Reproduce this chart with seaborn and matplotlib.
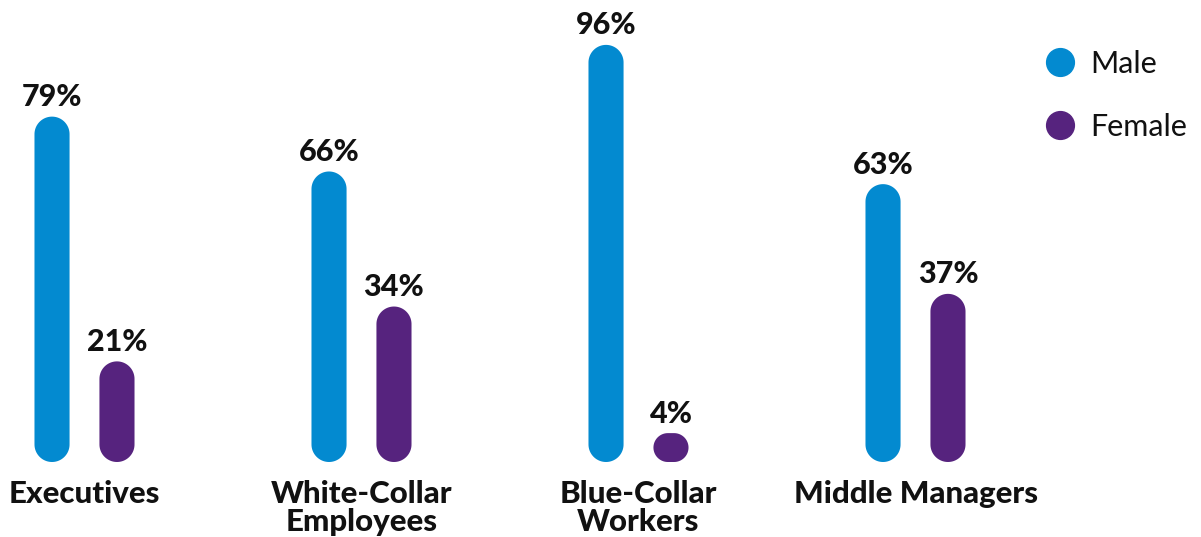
import matplotlib
matplotlib.use("Agg")
import matplotlib.pyplot as plt
from matplotlib.patches import Polygon
from matplotlib.lines import Line2D
from matplotlib.transforms import IdentityTransform
import seaborn as sns
import pandas as pd
import numpy as np

categories = ["Executives", "White-Collar\nEmployees", "Blue-Collar\nWorkers", "Middle Managers"]
genders = ["Male", "Female"]
male = [79, 66, 96, 63]
female = [21, 34, 4, 37]

colors = {"Male": "#038AD0", "Female": "#56237E"}

df = pd.DataFrame({
    "category": categories * 2,
    "gender": ["Male"] * len(categories) + ["Female"] * len(categories),
    "value": male + female,
})

sns.set_theme(style="white")
plt.rcParams["font.family"] = ["Lato", "DejaVu Sans"]

W, H, DPI = 1201, 537, 100
fig = plt.figure(figsize=(W / DPI, H / DPI), dpi=DPI)
base_px = 75
px_per_unit_y = 4.22
px_per_unit_x = 277
ax = fig.add_axes([0, base_px / H, 1, (H - base_px) / H])

sns.barplot(data=df, x="category", y="value", hue="gender", order=categories,
            hue_order=genders, palette=colors, width=0.469, gap=0.46,
            legend=False, ax=ax)

ax.set_xlim(-84.5 / px_per_unit_x, (W - 84.5) / px_per_unit_x)
ax.set_ylim(0, (H - base_px) / px_per_unit_y)


def rounded_rect(x0, y0, x1, y1, r, n=24):
    pts = []
    corners = [(x1 - r, y1 - r, 0.0), (x0 + r, y1 - r, 90.0),
               (x0 + r, y0 + r, 180.0), (x1 - r, y0 + r, 270.0)]
    for cx, cy, a0 in corners:
        t = np.radians(np.linspace(a0, a0 + 90.0, n))
        pts.append(np.column_stack([cx + r * np.cos(t), cy + r * np.sin(t)]))
    return np.vstack(pts)


cap_extra = 12 / px_per_unit_y
for gi, cont in enumerate(ax.containers):
    col = colors[genders[gi]]
    for p in cont:
        x, w, h = p.get_x(), p.get_width(), p.get_height()
        p.set_visible(False)
        hh = h + cap_extra
        (x0, y0), (x1, y1) = ax.transData.transform([(x, 0), (x + w, hh)])
        r_px = min((x1 - x0) / 2, (y1 - y0) / 2)
        poly = Polygon(rounded_rect(x0, y0, x1, y1, r_px), closed=True,
                       transform=IdentityTransform(), facecolor=col,
                       edgecolor="none", antialiased=True)
        fig.patches.append(poly)
        poly.set_figure(fig)
        ax.annotate(f"{h:.0f}%", (x + w / 2, hh), xytext=(0, 4), textcoords="offset points",
                    ha="center", va="bottom", fontsize=22, fontweight=900, color="#111111")

ax.set_xticks(range(len(categories)))
ax.set_xticklabels(categories, fontsize=22.5, fontweight=900, color="#111111",
                   linespacing=1.0, va="top")
ax.tick_params(axis="x", length=0, pad=13)
ax.set_yticks([])
ax.set_xlabel("")
ax.set_ylabel("")
for s in ax.spines.values():
    s.set_visible(False)

handles = [Line2D([], [], marker="o", ls="", markersize=20, color=colors[g]) for g in genders]
fig.legend(handles, genders, loc="upper left", bbox_to_anchor=(1046 / W, 1 - 50 / H),
           bbox_transform=fig.transFigure, frameon=False, fontsize=22,
           handlelength=0.9, handletextpad=0.55, labelspacing=1.15, borderpad=0,
           borderaxespad=0, labelcolor="#111111")

fig.savefig("out.png", dpi=DPI)
